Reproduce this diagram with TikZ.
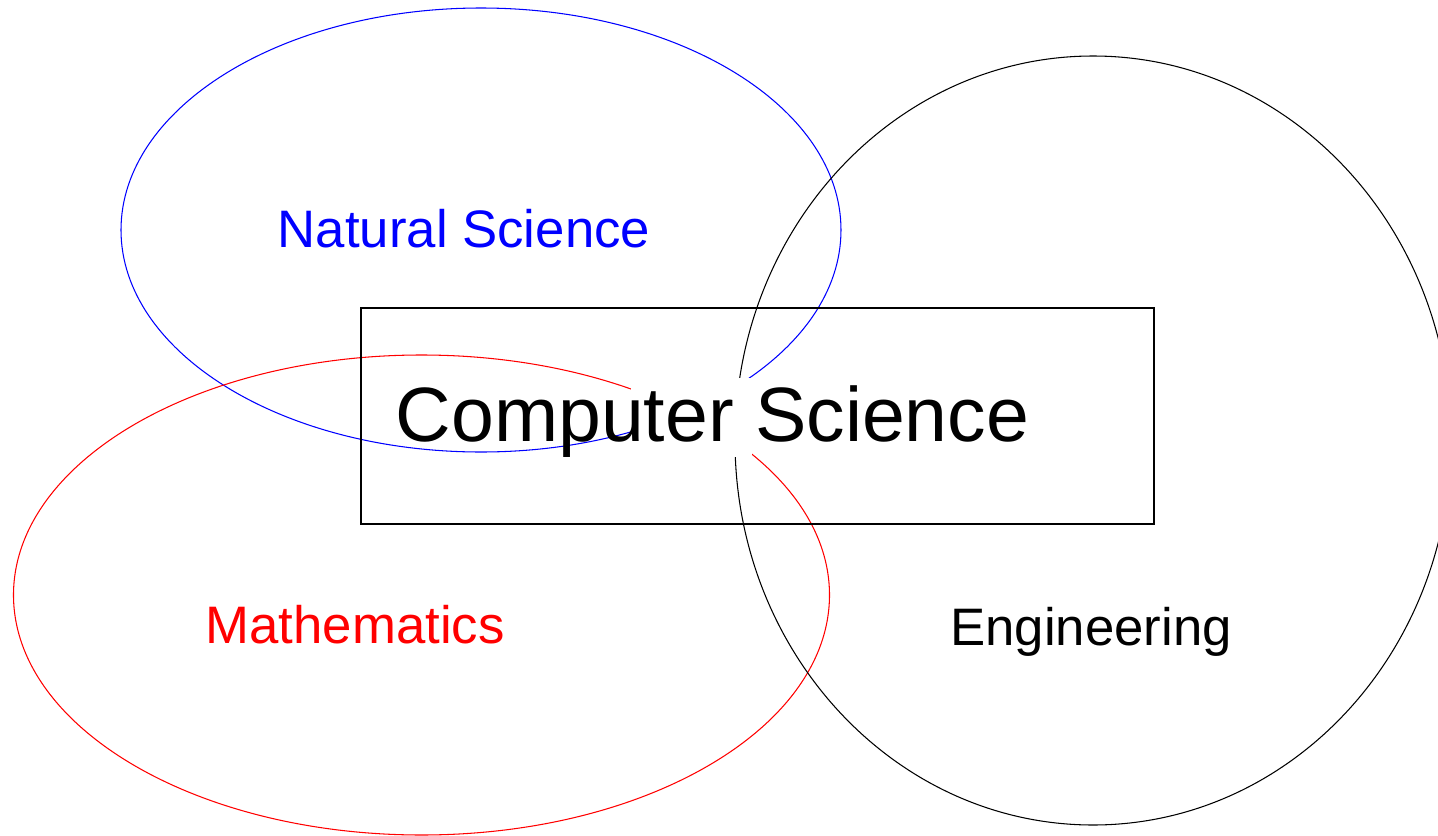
\documentclass[tikz,border=0pt]{standalone}
\usepackage{fontspec}
\setmainfont{Liberation Sans}
\usepackage{xcolor}
\usepackage{tikz}
\tikzset{every picture/.append style={font=\fontsize{15}{18}\selectfont}}
\tikzset{field/.style={anchor=base,inner sep=0pt}}

\begin{document}
\begin{tikzpicture}[x=0.01cm,y=-0.01cm]
    \useasboundingbox (0,0) rectangle (1438,836);
    \draw[blue,line width=0.3pt] (481,230) ellipse [x radius=360,y radius=222];
    \draw[red,line width=0.3pt] (421.5,595) ellipse [x radius=408,y radius=240];
    \draw[black,line width=0.3pt] (1093,440.5) ellipse [x radius=358,y radius=384.5];
    \coordinate (gapa) at (631,378);
    \coordinate (gapb) at (752,457);
    \fill[white] (gapa) rectangle (gapb);
    \draw[line width=0.6pt] (361,308) rectangle (1154,524);
    \node[field,text=blue] (nat) at (464,247) {Natural Science};
    \node[field,text=red] (math) at (355,643) {Mathematics};
    \node[field] (eng) at (1091,645) {Engineering};
    \node[field,font=\fontsize{21.9}{26}\selectfont] (cs) at (712.5,441) {Computer Science};
  \end{tikzpicture}
\end{document}
